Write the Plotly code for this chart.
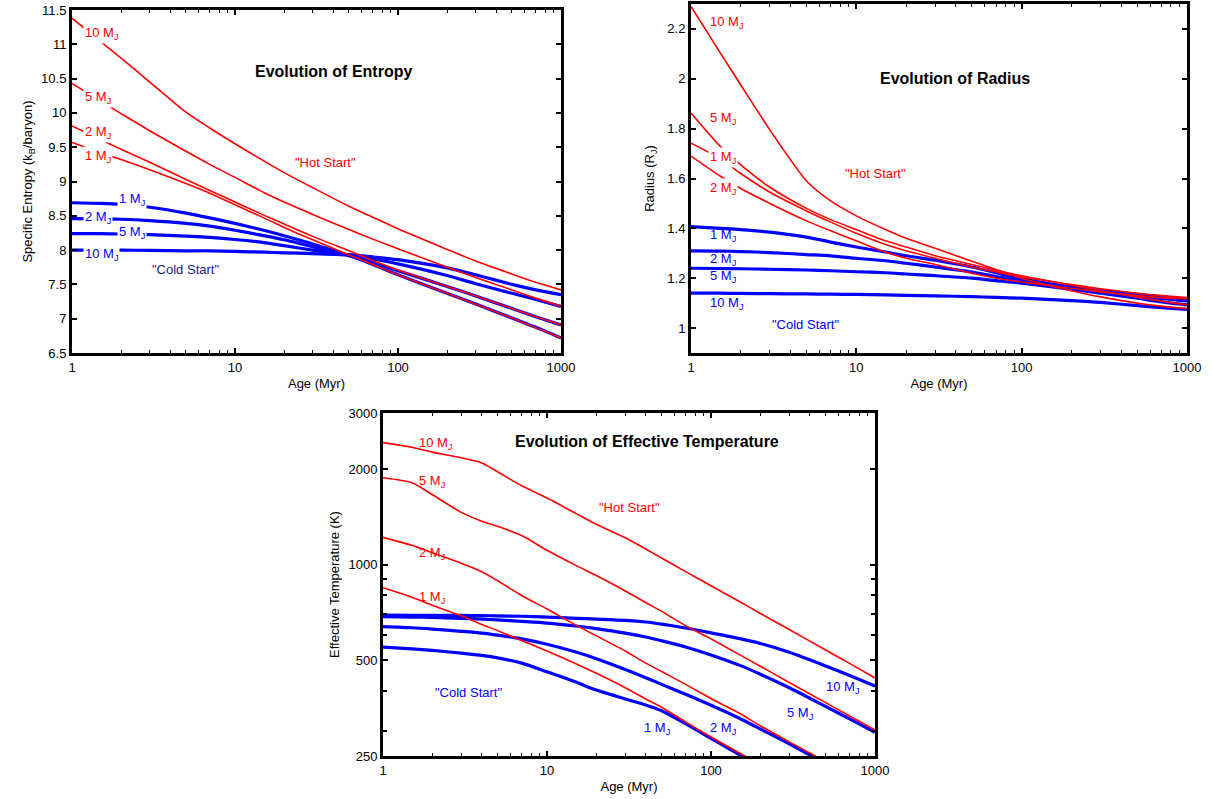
import numpy as np
import plotly.graph_objects as go

# ---------------- DATA ----------------
AGE = [1, 1.5, 2, 3, 5, 7, 10, 15, 20, 30, 50, 70, 100, 200, 300, 500, 700, 1000]

# Entropy (kB/baryon)
S_HOT_10 = [11.38, 11.04, 10.80, 10.45, 10.01, 9.78, 9.55, 9.30, 9.13, 8.91, 8.64, 8.48, 8.31, 8.01, 7.84, 7.65, 7.53, 7.42]
S_HOT_5 = [10.43, 10.17, 9.99, 9.74, 9.44, 9.25, 9.06, 8.84, 8.70, 8.52, 8.30, 8.16, 8.02, 7.75, 7.60, 7.42, 7.30, 7.18]
S_HOT_2 = [9.81, 9.61, 9.47, 9.28, 9.03, 8.87, 8.70, 8.51, 8.38, 8.20, 7.99, 7.85, 7.71, 7.47, 7.33, 7.15, 7.03, 6.91]
S_HOT_1 = [9.57, 9.42, 9.32, 9.17, 8.97, 8.83, 8.66, 8.47, 8.33, 8.15, 7.93, 7.79, 7.64, 7.37, 7.21, 7.01, 6.87, 6.72]
S_COLD_1 = [8.69, 8.68, 8.665, 8.625, 8.54, 8.47, 8.39, 8.29, 8.21, 8.09, 7.92, 7.79, 7.64, 7.37, 7.215, 7.01, 6.875, 6.72]
S_COLD_2 = [8.46, 8.455, 8.45, 8.43, 8.39, 8.35, 8.29, 8.21, 8.15, 8.05, 7.92, 7.82, 7.70, 7.47, 7.33, 7.15, 7.03, 6.91]
S_COLD_5 = [8.24, 8.24, 8.235, 8.225, 8.205, 8.185, 8.155, 8.11, 8.065, 8.00, 7.93, 7.87, 7.80, 7.63, 7.51, 7.37, 7.28, 7.18]
S_COLD_10 = [8.00, 8.00, 8.00, 7.995, 7.99, 7.99, 7.98, 7.97, 7.96, 7.95, 7.93, 7.90, 7.86, 7.74, 7.64, 7.50, 7.42, 7.35]

# Radius (R_J)
R_HOT_10 = [2.29, 2.105, 1.975, 1.795, 1.59, 1.51, 1.45, 1.395, 1.36, 1.32, 1.268, 1.235, 1.20, 1.15, 1.125, 1.10, 1.088, 1.078]
R_HOT_5 = [1.863, 1.73, 1.655, 1.565, 1.48, 1.435, 1.395, 1.35, 1.325, 1.29, 1.255, 1.232, 1.21, 1.172, 1.15, 1.124, 1.108, 1.093]
R_HOT_2 = [1.69, 1.61, 1.56, 1.50, 1.43, 1.39, 1.35, 1.305, 1.28, 1.255, 1.22, 1.20, 1.185, 1.16, 1.145, 1.13, 1.122, 1.118]
R_HOT_1 = [1.742, 1.68, 1.62, 1.545, 1.47, 1.425, 1.38, 1.335, 1.31, 1.28, 1.245, 1.225, 1.205, 1.175, 1.158, 1.14, 1.13, 1.122]
R_COLD_1 = [1.407, 1.40, 1.395, 1.385, 1.365, 1.345, 1.325, 1.305, 1.29, 1.272, 1.245, 1.222, 1.198, 1.165, 1.15, 1.135, 1.125, 1.115]
R_COLD_2 = [1.31, 1.309, 1.307, 1.303, 1.295, 1.29, 1.28, 1.27, 1.26, 1.245, 1.225, 1.207, 1.19, 1.16, 1.145, 1.13, 1.118, 1.109]
R_COLD_5 = [1.24, 1.239, 1.238, 1.236, 1.233, 1.23, 1.226, 1.222, 1.217, 1.21, 1.20, 1.19, 1.18, 1.155, 1.14, 1.12, 1.105, 1.093]
R_COLD_10 = [1.14, 1.14, 1.139, 1.138, 1.137, 1.136, 1.135, 1.133, 1.131, 1.129, 1.126, 1.123, 1.12, 1.11, 1.103, 1.09, 1.082, 1.075]

# Effective temperature (K)
AGE_T = [1, 1.5, 2, 3, 4, 5, 7, 10, 15, 20, 30, 40, 50, 70, 100, 150, 200, 300, 500, 700, 1000]
T_HOT_10 = [2420, 2340, 2260, 2170, 2090, 1960, 1770, 1620, 1450, 1340, 1215, 1120, 1049, 951, 858, 764, 702, 625, 539, 489, 440]
T_HOT_5 = [1877, 1810, 1660, 1460, 1370, 1320, 1235, 1110, 995, 924, 826, 760, 713, 643, 584, 520, 479, 426, 368, 334, 302]
T_HOT_2 = [1219, 1150, 1090, 1010, 950, 890, 800, 725, 645, 597, 535, 490, 461, 420, 379, 340, 311, 277, 240]
T_HOT_1 = [846, 790, 745, 690, 648, 620, 577, 535, 488, 455, 410, 378, 356, 320, 287, 255, 235]
T_COLD_10 = [694, 693, 693, 692, 691, 690, 688, 684, 678, 674, 668, 660, 650, 632, 610, 585, 565, 530, 480, 448, 415]
T_COLD_5 = [686, 684, 682, 678, 674, 670, 663, 655, 641, 629, 609, 592, 576, 551, 520, 482, 452, 410, 358, 327, 297]
T_COLD_2 = [638, 633, 627, 617, 609, 600, 584, 562, 531, 506, 468, 441, 420, 391, 361, 328, 304, 273, 236]
T_COLD_1 = [550, 543, 537, 527, 518, 509, 490, 460, 427, 403, 378, 362, 347, 316, 284, 252, 233]

AGE_TICKS = [1, 10, 100, 1000]
AGE_TICKTEXT = ["1", "10", "100", "1000"]
AGE_MINOR = [2, 3, 4, 5, 6, 7, 8, 9, 20, 30, 40, 50, 60, 70, 80, 90, 200, 300, 400, 500, 600, 700, 800, 900]
S_TICKS = [6.5, 7, 7.5, 8, 8.5, 9, 9.5, 10, 10.5, 11, 11.5]
R_TICKS = [1, 1.2, 1.4, 1.6, 1.8, 2, 2.2]
T_TICKS = [250, 500, 1000, 2000, 3000]
T_MINOR = [300, 400, 600, 700, 800, 900]

# ---------------- STYLE ----------------
RED = "#ff0000"
BLUE = "#0000ff"
NAVY = "#1a1a8c"
FONT = "Liberation Sans, Arial, Helvetica, sans-serif"
W, H = 1212, 799
SMOOTH = 0.7


def dom_x(a, b):
    return [max(0, a / W), min(1, b / W)]


def dom_y(top, bottom):
    return [max(0, 1 - bottom / H), min(1, 1 - top / H)]


fig = go.Figure()

panels = [
    ("x", "y", AGE, [S_COLD_1, S_COLD_2, S_COLD_5, S_COLD_10], [S_HOT_10, S_HOT_5, S_HOT_2, S_HOT_1]),
    ("x2", "y2", AGE, [R_COLD_1, R_COLD_2, R_COLD_5, R_COLD_10], [R_HOT_10, R_HOT_5, R_HOT_2, R_HOT_1]),
    ("x3", "y3", AGE_T, [T_COLD_1, T_COLD_2, T_COLD_5, T_COLD_10], [T_HOT_10, T_HOT_5, T_HOT_2, T_HOT_1]),
]
for xa, ya, ages, cold, hot in panels:
    for c in cold:
        fig.add_trace(go.Scatter(x=ages[:len(c)], y=c, mode="lines", xaxis=xa, yaxis=ya,
                                 line=dict(color=BLUE, width=3.2, shape="spline", smoothing=SMOOTH),
                                 hoverinfo="skip"))
    for h in hot:
        fig.add_trace(go.Scatter(x=ages[:len(h)], y=h, mode="lines", xaxis=xa, yaxis=ya,
                                 line=dict(color=RED, width=1.6, shape="spline", smoothing=SMOOTH),
                                 hoverinfo="skip"))

axis_common = dict(showline=True, linewidth=3, linecolor="black", mirror="allticks",
                   ticks="inside", ticklen=5, tickwidth=1.5, tickcolor="black",
                   showgrid=False, zeroline=False, automargin=False,
                   tickfont=dict(family=FONT, size=13, color="black"))

x_common = dict(axis_common, type="log", range=[0, 3], tickmode="array",
                tickvals=AGE_TICKS, ticktext=AGE_TICKTEXT,
                minor=dict(ticks="inside", ticklen=3, tickwidth=1, tickcolor="black",
                           tickmode="array", tickvals=AGE_MINOR, showgrid=False),
                title=dict(text="Age (Myr)", font=dict(family=FONT, size=13, color="black"), standoff=6))

fig.update_layout(
    width=W, height=H,
    margin=dict(l=0, r=0, t=0, b=0, autoexpand=False),
    paper_bgcolor="white", plot_bgcolor="white",
    showlegend=False,
    font=dict(family=FONT, size=13, color="black"),
    xaxis=dict(x_common, domain=dom_x(72, 561), anchor="y"),
    yaxis=dict(axis_common, domain=dom_y(10, 353), anchor="x", range=[6.5, 11.5],
               tickmode="array", tickvals=S_TICKS, ticktext=[f"{v:g}" for v in S_TICKS],
               title=dict(text="Specific Entropy (k<sub>B</sub>/baryon)",
                          font=dict(family=FONT, size=13, color="black"), standoff=6)),
    xaxis2=dict(x_common, domain=dom_x(691, 1187), anchor="y2"),
    yaxis2=dict(axis_common, domain=dom_y(4, 353), anchor="x2", range=[0.9, 2.3],
                tickmode="array", tickvals=R_TICKS, ticktext=[f"{v:g}" for v in R_TICKS],
                title=dict(text="Radius (R<sub>J</sub>)",
                           font=dict(family=FONT, size=13, color="black"), standoff=10)),
    xaxis3=dict(x_common, domain=dom_x(383, 875), anchor="y3"),
    yaxis3=dict(axis_common, domain=dom_y(413, 756), anchor="x3", type="log",
                range=[np.log10(250), np.log10(3000)],
                tickmode="array", tickvals=T_TICKS, ticktext=[str(v) for v in T_TICKS],
                minor=dict(ticks="inside", ticklen=4, tickwidth=1.5, tickcolor="black",
                           tickmode="array", tickvals=T_MINOR, showgrid=False),
                title=dict(text="Effective Temperature (K)",
                           font=dict(family=FONT, size=13, color="black"), standoff=6)),
)

L = np.log10
ann = []


def add(text, x, y, xr, yr, color, size=13, xanchor="left", bg=None, bold=False):
    t = f"<b>{text}</b>" if bold else text
    d = dict(text=t, x=x, y=y, xref=xr, yref=yr, showarrow=False, xanchor=xanchor,
             yanchor="middle", font=dict(family=FONT, size=size, color=color))
    if bg:
        d.update(bgcolor=bg, borderpad=1)
    ann.append(d)


MJ = " M<sub>J</sub>"
# Entropy panel
add("Evolution of Entropy", L(40), 10.6, "x", "y", "black", 16, "center", bold=True)
add("10" + MJ, L(1.17), 11.16, "x", "y", RED, bg="white")
add("5" + MJ, L(1.17), 10.22, "x", "y", RED, bg="white")
add("2" + MJ, L(1.17), 9.71, "x", "y", RED, bg="white")
add("1" + MJ, L(1.17), 9.36, "x", "y", RED, bg="white")
add("1" + MJ, L(1.89), 8.74, "x", "y", BLUE, bg="white")
add("2" + MJ, L(1.17), 8.48, "x", "y", BLUE, bg="white")
add("5" + MJ, L(1.89), 8.26, "x", "y", BLUE, bg="white")
add("10" + MJ, L(1.17), 7.93, "x", "y", BLUE, bg="white")
add('"Cold Start"', L(5.0), 7.71, "x", "y", NAVY, 13, "center")
add('"Hot Start"', L(35.8), 9.28, "x", "y", RED, 13, "center")

# Radius panel
add("Evolution of Radius", L(39.5), 2.0, "x2", "y2", "black", 16, "center", bold=True)
add("10" + MJ, L(1.27), 2.224, "x2", "y2", RED)
add("5" + MJ, L(1.27), 1.84, "x2", "y2", RED)
add("1" + MJ, L(1.27), 1.685, "x2", "y2", RED, bg="white")
add("2" + MJ, L(1.27), 1.56, "x2", "y2", RED, bg="white")
add("1" + MJ, L(1.27), 1.37, "x2", "y2", BLUE)
add("2" + MJ, L(1.27), 1.274, "x2", "y2", BLUE)
add("5" + MJ, L(1.27), 1.205, "x2", "y2", BLUE)
add("10" + MJ, L(1.27), 1.10, "x2", "y2", BLUE)
add('"Cold Start"', L(4.9), 1.016, "x2", "y2", BLUE, 13, "center")
add('"Hot Start"', L(13.0), 1.62, "x2", "y2", RED, 13, "center")

# Teff panel
add("Evolution of Effective Temperature", L(40.7), L(2437), "x3", "y3", "black", 16, "center", bold=True)
add("10" + MJ, L(1.61), L(2414), "x3", "y3", RED)
add("5" + MJ, L(1.61), L(1820), "x3", "y3", RED)
add("2" + MJ, L(1.61), L(1088), "x3", "y3", RED)
add("1" + MJ, L(1.61), L(791), "x3", "y3", RED)
add('"Cold Start"', L(3.3), L(395), "x3", "y3", BLUE, 13, "center")
add('"Hot Start"', L(32), L(1508), "x3", "y3", RED, 13, "center")
add("10" + MJ, L(631), L(412), "x3", "y3", BLUE, 13, "center")
add("5" + MJ, L(348), L(341), "x3", "y3", BLUE, 13, "center")
add("2" + MJ, L(118), L(306), "x3", "y3", BLUE, 13, "center")
add("1" + MJ, L(47), L(306), "x3", "y3", BLUE, 13, "center")

fig.update_layout(annotations=ann)
fig.write_html("out.html", config={"displayModeBar": False},
               post_script="document.body.style.margin='0px';")
